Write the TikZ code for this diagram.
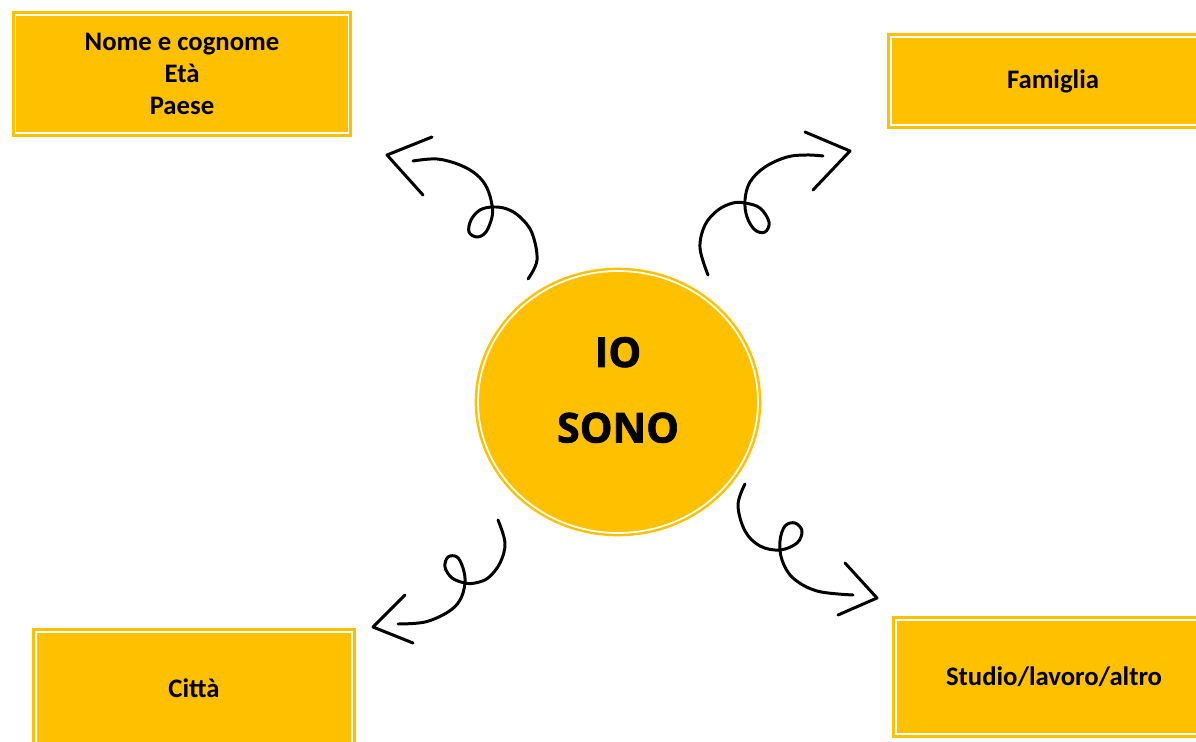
\documentclass[tikz,border=0pt]{standalone}
\usepackage{fontspec}
\setmainfont{Carlito}
\newfontfamily\opensans[BoldFeatures={FakeBold=1.6}]{Open Sans}
\usetikzlibrary{shapes.geometric}
\definecolor{gold}{HTML}{FFC000}

\begin{document}
\begin{tikzpicture}[x=0.02cm, y=-0.02cm,
		box/.style={rectangle, fill=gold, draw=gold, line width=1.7pt, double=white, double distance=1.1pt, inner sep=0pt, align=center, font=\fontsize{15.2}{18}\selectfont\bfseries},
		scribble/.style={draw=black, line width=1.7pt, line cap=round, line join=round}]
		\useasboundingbox (0,0) rectangle (1196,742);

		\node[box, minimum width=6.66cm, minimum height=2.36cm] (nome) at (182,74) {Nome e cognome\\Età\\Paese};
		\node[box, minimum width=6.48cm, minimum height=1.76cm] (famiglia) at (1053,81) {Famiglia};
		\node[box, minimum width=6.32cm, minimum height=2.24cm] (citta) at (194,688) {Città};
		\node[box, minimum width=6.32cm, minimum height=2.28cm] (studio) at (1054,677) {Studio/lavoro/altro};

		\node[ellipse, fill=gold, draw=gold, line width=1.4pt, double=white, double distance=1pt, minimum width=5.6cm, minimum height=5.24cm] (io) at (618,402) {};
		\node[align=center, font=\opensans\bfseries\fontsize{23.5}{43}\selectfont] (io_text) at ([yshift=0.24cm]io.center) {IO\\SONO};

		% verso nome e cognome
		\draw[scribble] plot[smooth, tension=0.6] coordinates {(528,279) (537,260) (532,233) (520,217) (507,209) (493,207) (480,210) (471,220) (469,232) (477,237) (486,232) (492,217) (492,205) (487,188) (477,175) (460,165) (437,159) (413,161)};
		\draw[scribble] (432,137) -- (387,155) -- (423,195);

		% verso famiglia
		\draw[scribble] plot[smooth, tension=0.6] coordinates {(708,275) (700,248) (705,225) (718,210) (733,203) (745,203) (760,208) (769,222) (765,232) (755,230) (747,217) (745,200) (750,182) (765,167) (787,157) (807,155) (823,156)};
		\draw[scribble] (805,132) -- (850,151) -- (813,190);

		% verso citta
		\draw[scribble] plot[smooth, tension=0.6] coordinates {(498,520) (505,543) (500,563) (488,578) (475,583) (465,583) (452,578) (445,567) (448,557) (457,557) (463,568) (465,583) (460,600) (448,612) (425,622) (398,624)};
		\draw[scribble] (405,595) -- (373,627) -- (413,643);

		% verso studio
		\draw[scribble] plot[smooth, tension=0.6] coordinates {(745,484) (738,505) (745,531) (760,546) (780,550) (797,543) (802,531) (795,523) (785,526) (780,541) (782,560) (793,578) (817,591) (853,595)};
		\draw[scribble] (845,563) -- (877,598) -- (838,615);
	\end{tikzpicture}
\end{document}
